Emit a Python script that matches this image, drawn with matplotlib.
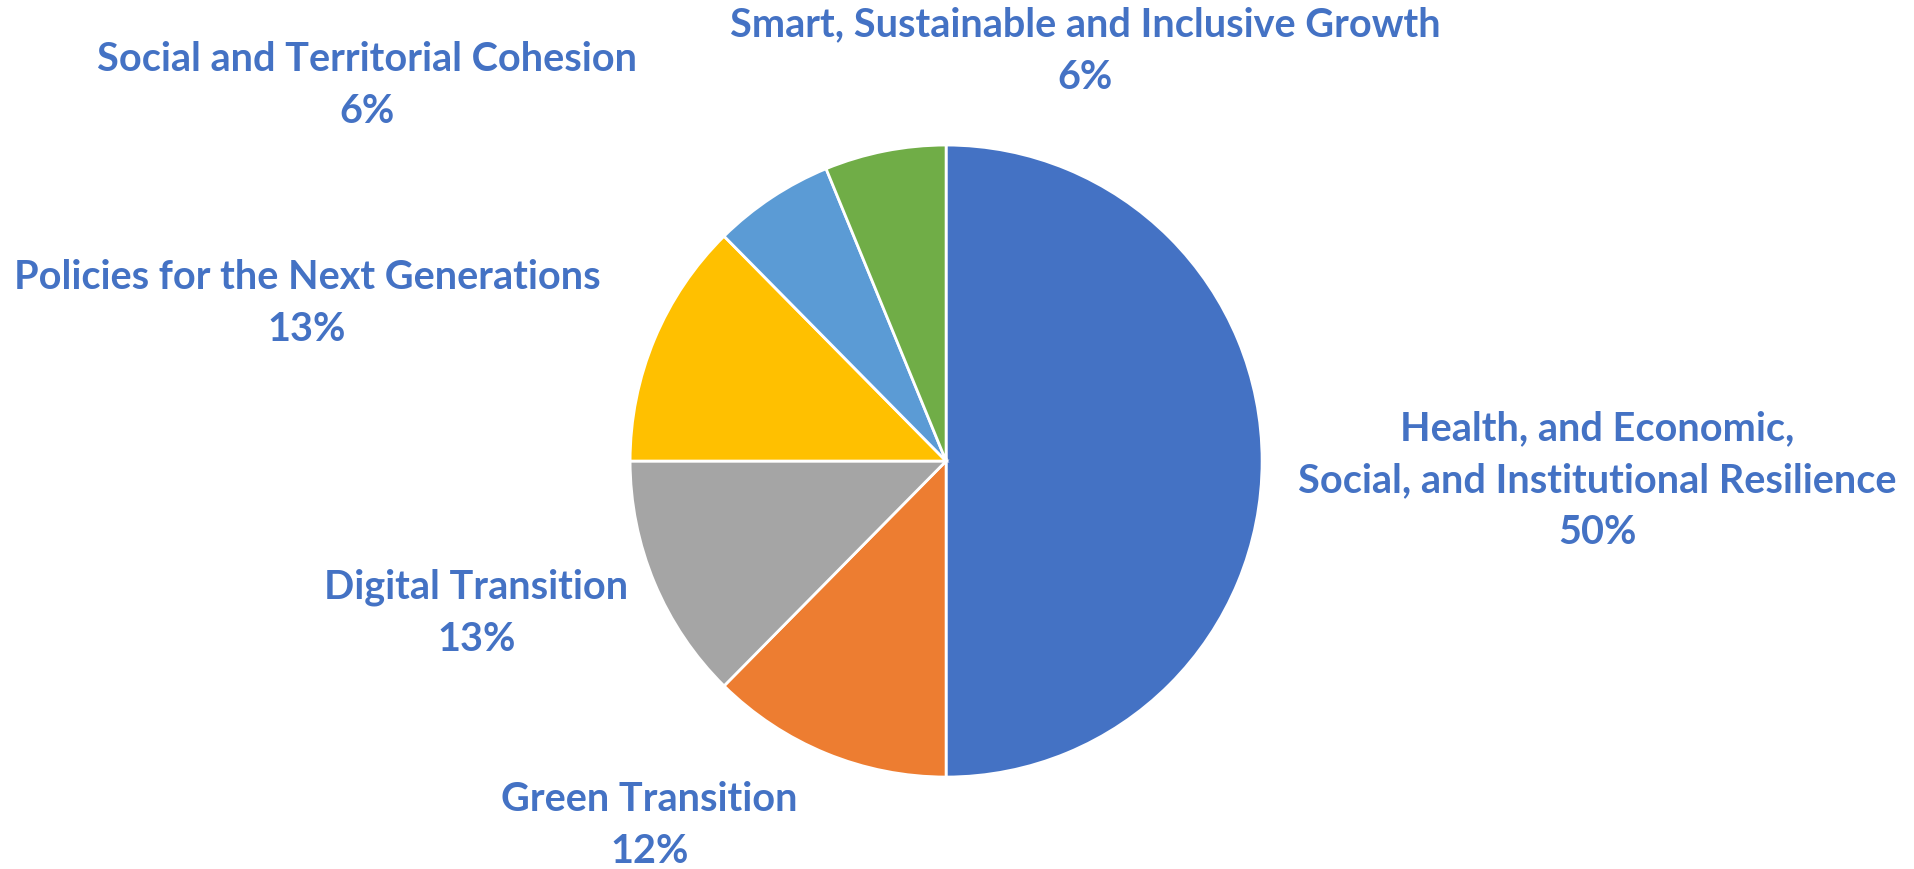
import matplotlib.pyplot as plt

# data
categories = ["Health, and Economic,\nSocial, and Institutional Resilience",
              "Green Transition",
              "Digital Transition",
              "Policies for the Next Generations",
              "Social and Territorial Cohesion",
              "Smart, Sustainable and Inclusive Growth"]
shares = [50.0, 12.4, 12.6, 12.6, 6.2, 6.2]
colors = ["#4472C4", "#ED7D31", "#A5A5A5", "#FFC000", "#5B9BD5", "#70AD47"]

# label centres, in pie radii from the centre (placed by hand in the original)
label_pos = [(2.062, -0.062), (-0.938, -1.154), (-1.486, -0.483),
             (-2.023, 0.498), (-1.834, 1.189), (0.44, 1.297)]

fig = plt.figure(figsize=(19.14, 8.69), dpi=100)
ax = fig.add_axes([0, 0, 1, 1])

wedges, _ = ax.pie(shares, colors=colors, startangle=90, counterclock=False,
                   radius=1, wedgeprops=dict(edgecolor="white", linewidth=2))

total = sum(shares)
for name, val, (x, y) in zip(categories, shares, label_pos):
    ax.text(x, y, f"{name}\n{val / total * 100:.0f}%", ha="center", va="center",
            color="#4472C4", fontsize=28.5, fontweight="bold", family="Lato",
            linespacing=1.5)

ax.set_xlim(-2.994, 3.063)
ax.set_ylim(-1.291, 1.459)
ax.set_aspect("auto")
ax.axis("off")

fig.savefig("out.png", dpi=100)
